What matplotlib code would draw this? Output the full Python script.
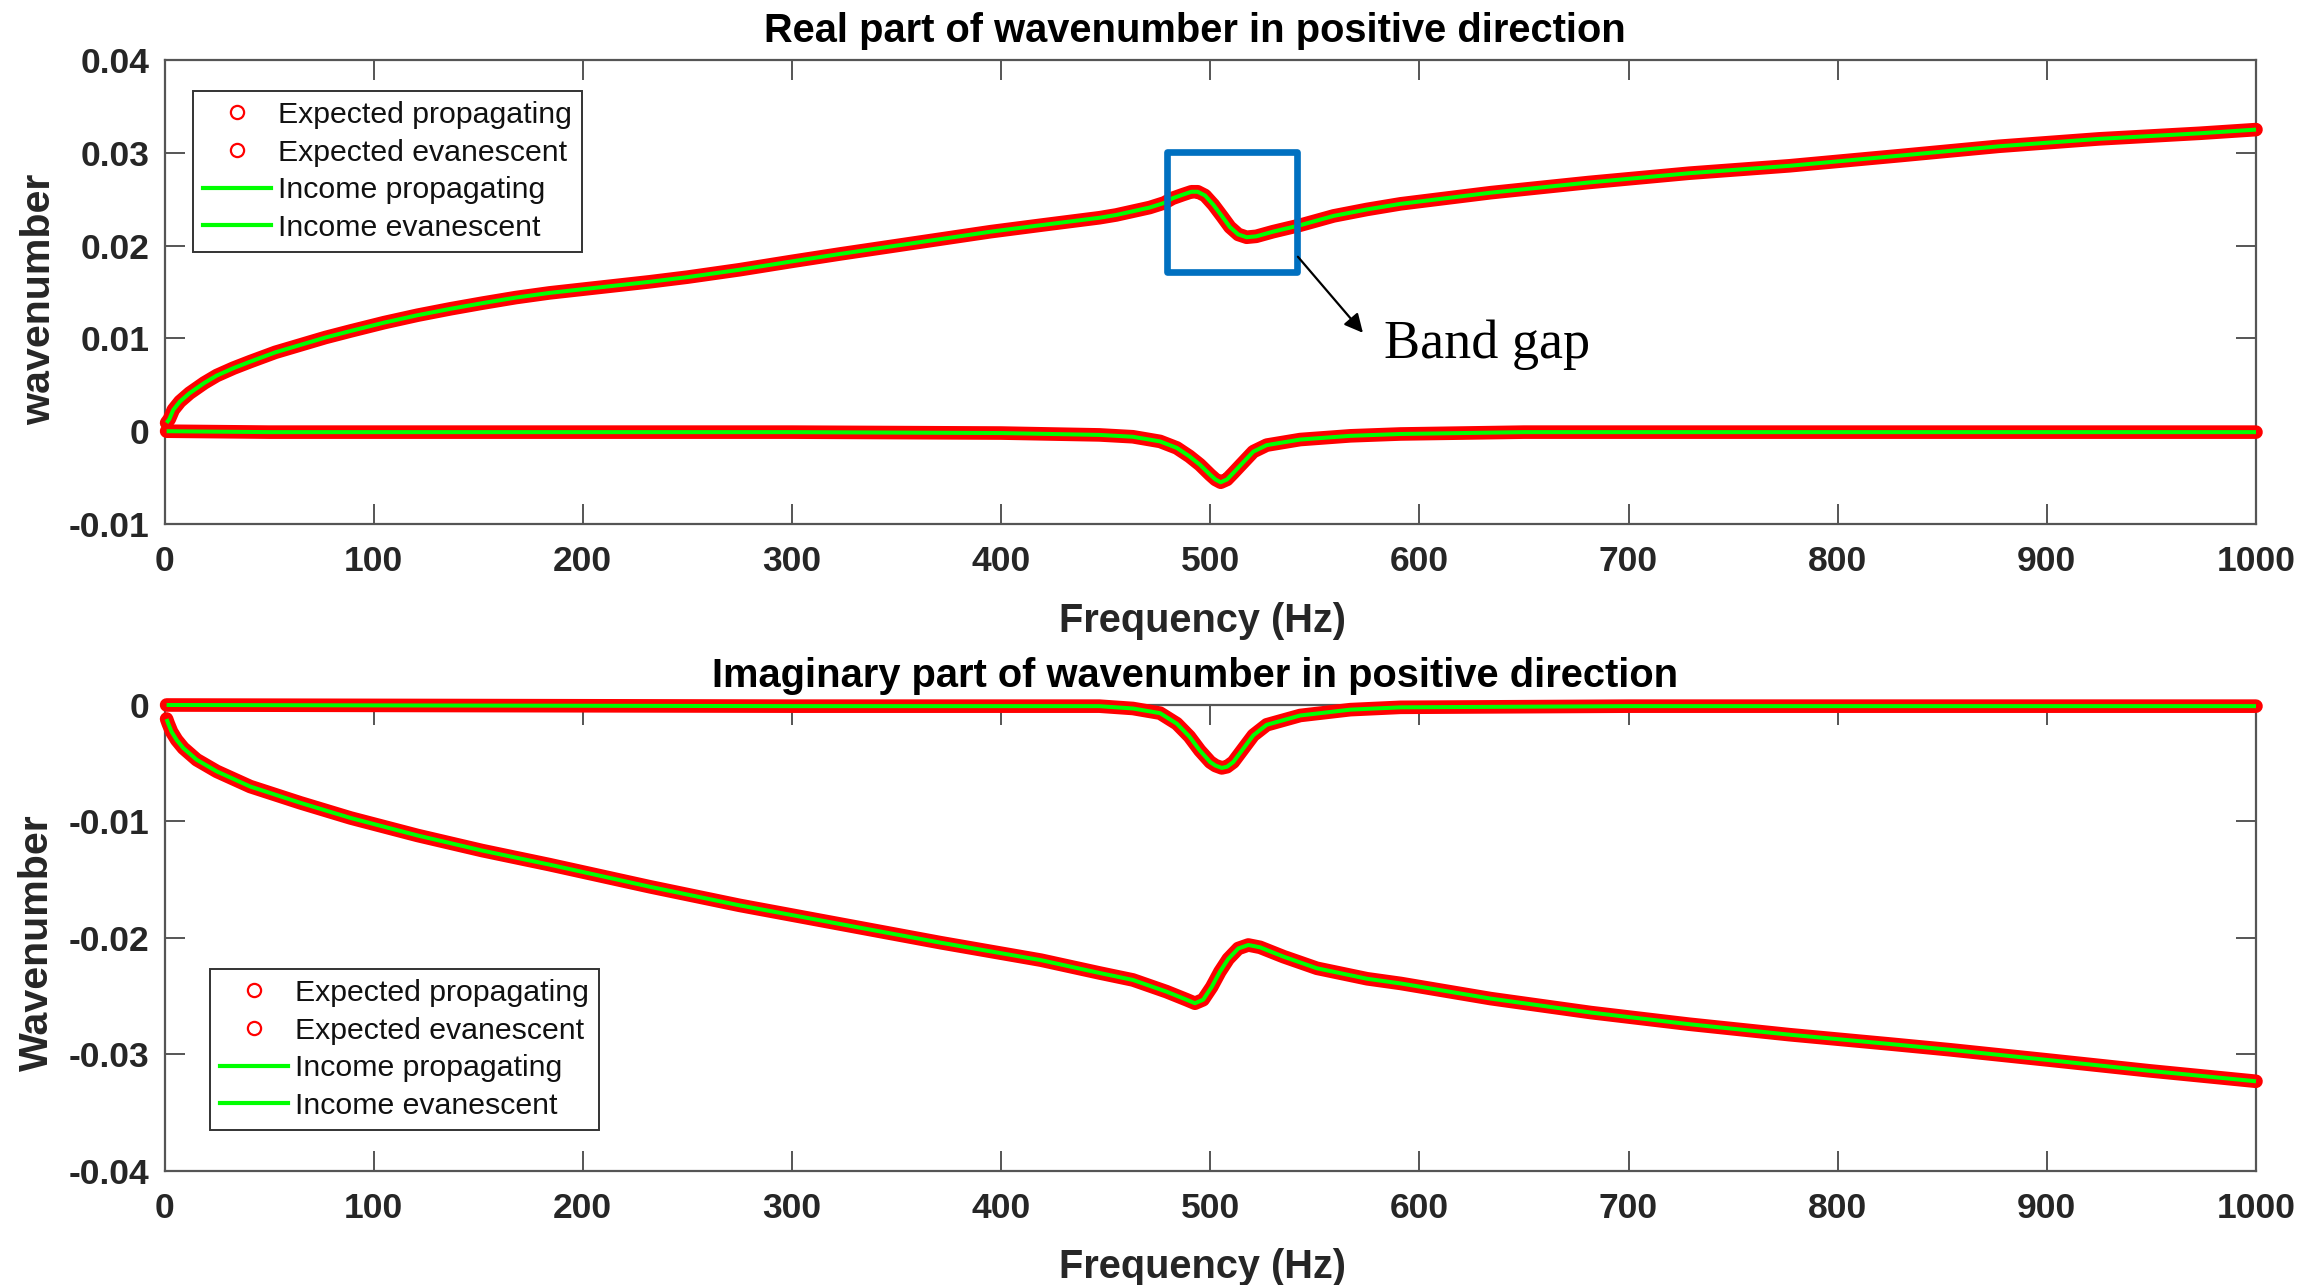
import matplotlib
matplotlib.use("Agg")
import matplotlib.pyplot as plt
from matplotlib.lines import Line2D
from matplotlib.patches import Rectangle

plt.rcParams['font.family'] = ['Liberation Sans', 'DejaVu Sans']

# ---------------- data ----------------
# Real part, propagating wave (top panel, upper curve)
f_re_prop = [1, 2.3, 4.2, 7.4, 12, 19, 25, 33, 41, 53, 65, 77, 89, 105, 121,
             137, 152, 168, 184, 208, 232, 250, 275, 300, 323, 347, 371, 395,
             419, 447, 455, 463, 471, 478, 482, 487, 491, 494, 497.5, 501.5,
             505.5, 509.4, 513.4, 517.4, 522, 530, 543, 559, 575, 591, 634,
             681, 729, 777, 830, 877, 925, 973, 1000]
k_re_prop = [0.0009, 0.0013, 0.0023, 0.0032, 0.0041, 0.0052, 0.0060, 0.0068,
             0.0075, 0.0085, 0.0093, 0.0101, 0.0108, 0.0117, 0.0125,
             0.0132, 0.0138, 0.0144, 0.0149, 0.0155, 0.0161, 0.0166, 0.0174,
             0.0183, 0.0191, 0.0199, 0.0207, 0.0215,
             0.0222, 0.0230, 0.0233, 0.0237, 0.0241, 0.0246, 0.0251, 0.0255,
             0.0258, 0.0258, 0.0254, 0.0244,
             0.0232, 0.0220, 0.0212, 0.0209, 0.0210, 0.0215, 0.0222, 0.0232,
             0.0239, 0.0245, 0.0257,
             0.0268, 0.0278, 0.0286, 0.0297, 0.0307, 0.0315, 0.0321, 0.0325]

# Real part, evanescent wave (top panel, lower curve)
f_re_evan = [1, 50, 300, 400, 447, 463, 476, 484, 490, 495, 500, 502.5, 505,
             508, 511, 516, 520.6, 527, 543, 567, 591, 650, 1000]
k_re_evan = [0.0, -0.0001, -0.0001, -0.0002, -0.0004, -0.0006, -0.0011,
             -0.0018, -0.0027, -0.0036, -0.0047, -0.0052, -0.0055, -0.0052,
             -0.0045, -0.0033, -0.0022, -0.0015, -0.0009, -0.0005, -0.0003,
             -0.0001, -0.0001]

# Imaginary part, propagating wave (bottom panel, upper curve)
f_im_prop = [1, 300, 447, 463, 476, 484, 490, 495, 500, 502.5, 505.5, 508,
             511, 516, 520.6, 527, 543, 567, 591, 700, 1000]
k_im_prop = [0.0, -0.0001, -0.0001, -0.0003, -0.0007, -0.0016, -0.0027,
             -0.0039, -0.0049, -0.0052, -0.0054, -0.0053, -0.0049, -0.0037,
             -0.0026, -0.0017, -0.0009, -0.0004, -0.0002, -0.0001, -0.0001]

# Imaginary part, evanescent wave (bottom panel, lower curve)
f_im_evan = [1, 1.8, 3.4, 5.8, 9, 15.4, 25, 41, 65, 89, 121, 152, 184, 232,
             275, 323, 371, 419, 447, 463, 479, 488.7, 492.7, 496.6, 500.7,
             504.6, 508.6, 513.4, 518.2, 523.8, 535, 551, 575, 591, 634, 682,
             729, 777, 825, 854, 902, 949, 1000]
k_im_evan = [-0.0012, -0.0016, -0.0023, -0.0030, -0.0037, -0.0047, -0.0057,
             -0.0070, -0.0084, -0.0097, -0.0112, -0.0125, -0.0137, -0.0156,
             -0.0172, -0.0188, -0.0204, -0.0219, -0.0230, -0.0236, -0.0246,
             -0.0253, -0.0256, -0.0253, -0.0242,
             -0.0229, -0.0218, -0.0209, -0.0206, -0.0208, -0.0216, -0.0226,
             -0.0235, -0.0239, -0.0252, -0.0264,
             -0.0274, -0.0283, -0.0291, -0.0296, -0.0305, -0.0314, -0.0323]

x_ticks = [0, 100, 200, 300, 400, 500, 600, 700, 800, 900, 1000]
y_ticks_top = [-0.01, 0, 0.01, 0.02, 0.03, 0.04]
y_ticklabels_top = ['-0.01', '0', '0.01', '0.02', '0.03', '0.04']
y_ticks_bot = [-0.04, -0.03, -0.02, -0.01, 0]
y_ticklabels_bot = ['-0.04', '-0.03', '-0.02', '-0.01', '0']

legend_labels = ['Expected propagating', 'Expected evanescent',
                 'Income propagating', 'Income evanescent']

# ---------------- styling ----------------
RED = '#FF0000'
GREEN = '#00FF00'
SPINE = '#555555'
TXT = '#262626'

fig = plt.figure(figsize=(23.03, 12.85), dpi=100)
ax1 = fig.add_axes([0.07143, 0.59222, 0.90816, 0.36109])
ax2 = fig.add_axes([0.07143, 0.08872, 0.90816, 0.36265])


def draw(ax, f_prop, k_prop, f_evan, k_evan):
    for f, k in ((f_prop, k_prop), (f_evan, k_evan)):
        ax.plot(f, k, color=RED, lw=9.8, solid_capstyle='round',
                solid_joinstyle='round', clip_on=False, zorder=3)
    for f, k in ((f_prop, k_prop), (f_evan, k_evan)):
        ax.plot(f, k, color=GREEN, lw=2.9, solid_capstyle='butt',
                solid_joinstyle='round', clip_on=False, zorder=4)


def style(ax, yt, ytl, ylim, title, ylabel, ylab_coords, xlab_y):
    ax.set_xlim(0, 1000)
    ax.set_ylim(*ylim)
    ax.set_xticks(x_ticks)
    ax.set_xticklabels([str(v) for v in x_ticks])
    ax.set_yticks(yt)
    ax.set_yticklabels(ytl)
    for s in ax.spines.values():
        s.set_color(SPINE)
        s.set_linewidth(1.6)
    ax.tick_params(axis='both', which='major', direction='in', length=14.5,
                   width=1.4, color=SPINE, top=True, right=True,
                   labelsize=25.5, labelcolor=TXT)
    ax.tick_params(axis='x', pad=15)
    ax.tick_params(axis='y', pad=11)
    for lab in ax.get_xticklabels() + ax.get_yticklabels():
        lab.set_fontweight('bold')
    ax.set_title(title, fontsize=28.7, fontweight='bold', color='black',
                 pad=13, x=0.4927)
    ax.set_xlabel('Frequency (Hz)', fontsize=28.6, fontweight='bold', color=TXT)
    ax.xaxis.set_label_coords(0.4965, xlab_y)
    ax.set_ylabel(ylabel, fontsize=29.6, fontweight='bold', color=TXT)
    ax.yaxis.set_label_coords(*ylab_coords)


draw(ax1, f_re_prop, k_re_prop, f_re_evan, k_re_evan)
draw(ax2, f_im_prop, k_im_prop, f_im_evan, k_im_evan)

style(ax1, y_ticks_top, y_ticklabels_top, (-0.01, 0.04),
      'Real part of wavenumber in positive direction', 'wavenumber',
      (-0.051, 0.485), -0.169)
style(ax2, y_ticks_bot, y_ticklabels_bot, (-0.04, 0.0),
      'Imaginary part of wavenumber in positive direction', 'Wavenumber',
      (-0.052, 0.489), -0.165)


def make_legend(ax, anchor):
    handles = [
        Line2D([], [], ls='none', marker='o', mfc='none', mec=RED, ms=9.5, mew=1.6),
        Line2D([], [], ls='none', marker='o', mfc='none', mec=RED, ms=9.5, mew=1.6),
        Line2D([], [], color=GREEN, lw=3),
        Line2D([], [], color=GREEN, lw=3),
    ]
    leg = ax.legend(handles, legend_labels, loc='upper left',
                    bbox_to_anchor=anchor, borderaxespad=0, fontsize=21.8,
                    frameon=True, fancybox=False, shadow=False, framealpha=1,
                    edgecolor='#333333', handlelength=2.25, handletextpad=0.22,
                    labelspacing=0.32, borderpad=0.33)
    leg.get_frame().set_linewidth(1.4)
    for t in leg.get_texts():
        t.set_color('#111111')
    leg.set_zorder(10)
    return leg


make_legend(ax1, (0.0136, 0.9332))
make_legend(ax2, (0.0218, 0.4335))

# Band gap annotation (top panel)
rect = Rectangle((479.3, 0.01716), 62.2, 0.01293, fill=False,
                 edgecolor='#0070C0', linewidth=4.8, joinstyle='round',
                 clip_on=False, zorder=6)
ax1.add_patch(rect)
ax1.annotate('', xy=(573.0, 0.0106), xytext=(541.9, 0.0188),
             arrowprops=dict(arrowstyle='-|>', color='black', lw=1.6,
                             mutation_scale=28, shrinkA=0, shrinkB=0),
             zorder=6, annotation_clip=False)
ax1.text(583.1, 0.0079, 'Band gap', fontsize=39,
         family=['Liberation Serif', 'DejaVu Serif'], color='black',
         ha='left', va='baseline', zorder=6)

fig.savefig('out.png', dpi=100)
